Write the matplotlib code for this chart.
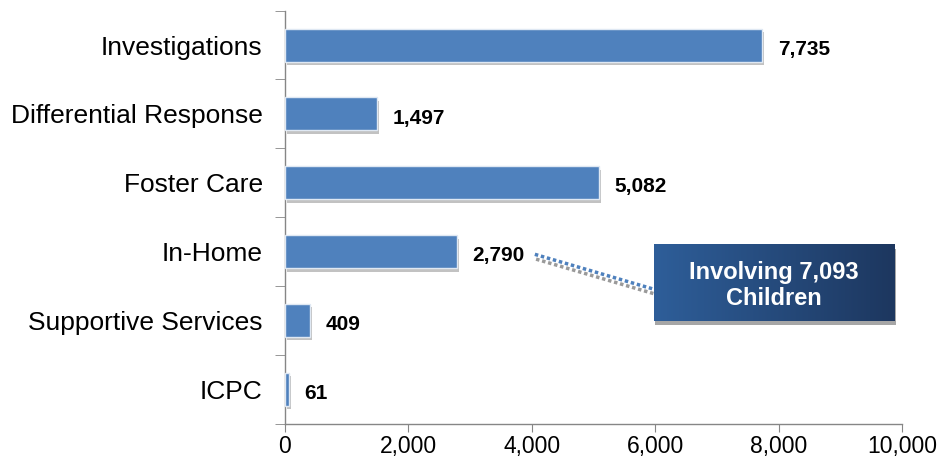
import matplotlib.pyplot as plt
import matplotlib.patheffects as pe
import numpy as np
from matplotlib.colors import LinearSegmentedColormap
from matplotlib.patches import Rectangle

plt.rcParams['font.family'] = ['Liberation Sans', 'DejaVu Sans']

categories = ['Investigations', 'Differential Response', 'Foster Care',
              'In-Home', 'Supportive Services', 'ICPC']
values = [7735, 1497, 5082, 2790, 409, 61]
xticks = [0, 2000, 4000, 6000, 8000, 10000]
callout_text = 'Involving 7,093\nChildren'

fig = plt.figure(figsize=(9.38, 4.63), dpi=100)
ax = fig.add_axes([0.3038, 0.085, 0.6578, 0.892])

y = np.arange(len(categories))
shadow = [pe.SimplePatchShadow(offset=(1.5, -2.5), shadow_rgbFace='#9a9a9a', alpha=0.6), pe.Normal()]
bars = ax.barh(y, values, height=0.48, color='#4F81BD', edgecolor='#dfe8f3',
               linewidth=1.0, zorder=3)
for b in bars:
    b.set_path_effects(shadow)

for yi, v in zip(y, values):
    ax.text(v + 250, yi + 0.06, f'{v:,}', va='center', ha='left',
            fontsize=15, fontweight='bold', color='black', zorder=5)

ax.set_xlim(0, 10000)
ax.set_ylim(len(categories) - 0.5, -0.5)
ax.set_xticks(xticks)
ax.set_xticklabels([f'{t:,}' for t in xticks], fontsize=16.5)
ax.set_yticks(y)
ax.set_yticklabels(categories, fontsize=19)
ax.set_yticks(np.arange(-0.5, len(categories)), minor=True)
ax.tick_params(axis='y', which='major', length=0, pad=16)
ax.tick_params(axis='y', which='minor', length=7, color='#868686', direction='out')
ax.tick_params(axis='x', length=6, color='#868686', direction='out', pad=2)

for s in ['top', 'right']:
    ax.spines[s].set_visible(False)
for s in ['left', 'bottom']:
    ax.spines[s].set_color('#868686')
    ax.spines[s].set_linewidth(1.0)

# callout connector (gray shadow + blue dotted line)
x0, y0, x1, y1 = 4050, 3.04, 5990, 3.55
ax.plot([x0 + 20, x1 + 20], [y0 + 0.07, y1 + 0.07], color='#9a9a9a', lw=2.5,
        ls=(0, (1, 0.8)), zorder=4, clip_on=False)
ax.plot([x0, x1], [y0, y1], color='#4F81BD', lw=2.5, ls=(0, (1, 0.8)),
        zorder=4, clip_on=False)

# callout box with horizontal gradient
bx0, bx1, by0, by1 = 5980, 9880, 2.90, 4.01
ax.add_patch(Rectangle((bx0 + 20, by0 + 0.06), bx1 - bx0, by1 - by0,
                       facecolor='#a6a6a6', edgecolor='none', zorder=5, clip_on=False))
cmap = LinearSegmentedColormap.from_list('box', ['#2E5E99', '#1D375F'])
grad = np.linspace(0, 1, 256).reshape(1, -1)
ax.imshow(grad, cmap=cmap, extent=[bx0, bx1, by1, by0], aspect='auto',
          zorder=6, interpolation='bilinear')
ax.text((bx0 + bx1) / 2, (by0 + by1) / 2 + 0.04, callout_text, ha='center',
        va='center', color='white', fontsize=17, fontweight='bold',
        linespacing=1.15, zorder=7)
ax.set_xlim(0, 10000)
ax.set_ylim(len(categories) - 0.5, -0.5)

fig.savefig('out.png', dpi=100)
